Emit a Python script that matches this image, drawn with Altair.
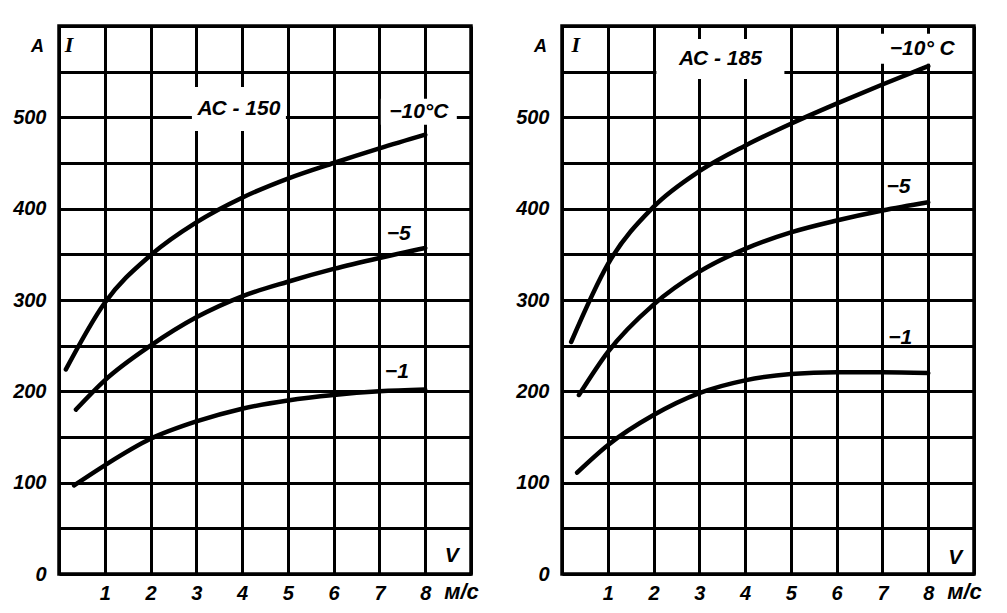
import altair as alt
import pandas as pd

FONT = "Liberation Sans"

# ---- curve data (v in m/s, I in A) ----
left_m10_v = [0.15, 1, 2, 3, 4, 5, 6, 7, 8]
left_m10_i = [224, 297, 349, 385, 412, 433, 450, 466, 481]
left_m5_v = [0.37, 1, 2, 3, 4, 5, 6, 7, 8]
left_m5_i = [180, 212, 250, 281, 304, 320, 334, 346, 357]
left_m1_v = [0.33, 1, 2, 3, 4, 5, 6, 7, 8]
left_m1_i = [97, 119, 148, 167, 181, 190, 196, 200, 202]

right_m10_v = [0.2, 1, 2, 3, 4, 5, 6, 7, 8]
right_m10_i = [254, 339, 402, 441, 469, 493, 515, 536, 556]
right_m5_v = [0.37, 1, 2, 3, 4, 5, 6, 7, 8]
right_m5_i = [196, 243, 295, 331, 356, 374, 387, 398, 407]
right_m1_v = [0.33, 1, 2, 3, 4, 5, 6, 7, 8]
right_m1_i = [111, 141, 174, 198, 212, 219, 221, 221, 220]

x_ticks = list(range(0, 10))
y_ticks = list(range(0, 601, 50))

# ---- annotation texts ----
left_title = "АС - 150"
left_title_pos = [3.93, 509]
left_t10 = "−10°C"
left_t10_pos = [7.86, 506]
left_small_text = ["−5", "−1"]
left_small_v = [7.42, 7.38]
left_small_i = [372, 221]

right_title = "АС - 185"
right_title_pos = [3.46, 564]
right_t10 = "−10° C"
right_t10_pos = [7.87, 575]
right_small_text = ["−5", "−1"]
right_small_v = [7.35, 7.39]
right_small_i = [424, 258]

left_I_pos = [0.22, 579]
left_V_pos = [8.58, 20]
right_I_pos = [0.3, 579]
right_V_pos = [8.59, 17]

W, H = 412, 548

X = alt.X(
    "v:Q",
    scale=alt.Scale(domain=[0, 9], nice=False, zero=False),
    axis=alt.Axis(
        values=x_ticks,
        labelExpr="datum.value >= 1 && datum.value <= 8 ? datum.label : ''",
        grid=True, ticks=False, domain=False,
        labelFont=FONT, labelFontSize=20, labelFontStyle="italic",
        labelFontWeight="bold", labelColor="black", labelPadding=9,
        title="м/с", titleFont=FONT, titleFontSize=22, titleFontStyle="italic",
        titleFontWeight="bold", titleColor="black",
        titleX=402, titleY=17, titleAlign="center", titleBaseline="middle",
    ),
)
Y = alt.Y(
    "i:Q",
    scale=alt.Scale(domain=[0, 600], nice=False, zero=False),
    axis=alt.Axis(
        values=y_ticks,
        labelExpr="datum.value % 100 == 0 && datum.value <= 500 ? datum.label : ''",
        grid=True, ticks=False, domain=False,
        labelFont=FONT, labelFontSize=20, labelFontStyle="italic",
        labelFontWeight="bold", labelColor="black", labelPadding=13,
        title="A", titleFont=FONT, titleFontSize=18, titleFontStyle="italic",
        titleFontWeight="bold", titleColor="black", titleAngle=0,
        titleX=-22, titleY=20, titleAlign="center", titleBaseline="middle",
    ),
)


def curves_df(series):
    rows = []
    for name, vs, is_ in series:
        for a, b in zip(vs, is_):
            rows.append({"s": name, "v": a, "i": b})
    return pd.DataFrame(rows)


def panel(series, title, title_pos, title_bg, t10, t10_pos, t10_bg,
          small_text, small_v, small_i, I_pos, V_pos):
    cdf = curves_df(series)
    lines = alt.Chart(cdf).mark_line(
        color="black", strokeWidth=4.5, interpolate="monotone", strokeCap="round"
    ).encode(x=X, y=Y, detail="s:N")

    tdf = pd.DataFrame({"v": [title_pos[0]], "i": [title_pos[1]], "t": [title]})
    t10df = pd.DataFrame({"v": [t10_pos[0]], "i": [t10_pos[1]], "t": [t10]})
    sdf = pd.DataFrame({"v": small_v, "i": small_i, "t": small_text})

    bg1 = alt.Chart(tdf).mark_rect(color="white", width=title_bg[0], height=title_bg[1]).encode(x=X, y=Y)
    bg2 = alt.Chart(t10df).mark_rect(color="white", width=t10_bg[0], height=t10_bg[1]).encode(x=X, y=Y)

    txt_kw = dict(font=FONT, fontSize=21, fontStyle="italic", fontWeight="bold",
                  color="black", align="center", baseline="middle")
    t1 = alt.Chart(tdf).mark_text(**txt_kw).encode(x=X, y=Y, text="t:N")
    t2 = alt.Chart(t10df).mark_text(**txt_kw).encode(x=X, y=Y, text="t:N")
    t3 = alt.Chart(sdf).mark_text(**txt_kw).encode(x=X, y=Y, text="t:N")

    idf = pd.DataFrame({"v": [I_pos[0]], "i": [I_pos[1]], "t": ["I"]})
    vdf = pd.DataFrame({"v": [V_pos[0]], "i": [V_pos[1]], "t": ["V"]})
    tI = alt.Chart(idf).mark_text(font="Liberation Serif", fontSize=22, fontStyle="italic",
                                  fontWeight="bold", color="black", align="center",
                                  baseline="middle").encode(x=X, y=Y, text="t:N")
    tV = alt.Chart(vdf).mark_text(**txt_kw).encode(x=X, y=Y, text="t:N")

    return alt.layer(bg1, bg2, lines, t1, t2, t3, tI, tV).properties(width=W, height=H)


left = panel(
    [("-10", left_m10_v, left_m10_i), ("-5", left_m5_v, left_m5_i), ("-1", left_m1_v, left_m1_i)],
    left_title, left_title_pos, (94, 44), left_t10, left_t10_pos, (76, 26),
    left_small_text, left_small_v, left_small_i, left_I_pos, left_V_pos,
)
right = panel(
    [("-10", right_m10_v, right_m10_i), ("-5", right_m5_v, right_m5_i), ("-1", right_m1_v, right_m1_i)],
    right_title, right_title_pos, (128, 40), right_t10, right_t10_pos, (86, 30),
    right_small_text, right_small_v, right_small_i, right_I_pos, right_V_pos,
)

chart = alt.hconcat(left, right, spacing=91, bounds="flush").properties(
    padding={"left": 10, "top": 24, "right": 5, "bottom": 5},
    background="white",
).configure_view(
    stroke="black", strokeWidth=3.5
).configure_axis(
    gridColor="black", gridWidth=3, gridOpacity=1
)

chart.save("out.html", embed_options={"renderer": "svg", "actions": False})
